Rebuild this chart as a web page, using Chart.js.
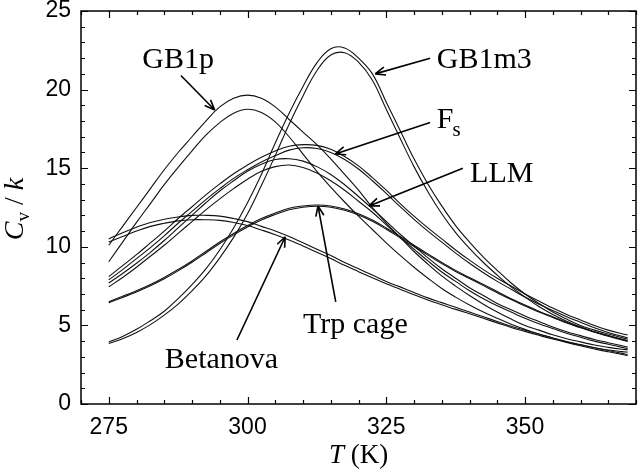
<!DOCTYPE html>
<html><head><meta charset="utf-8">
<script src="https://cdn.jsdelivr.net/npm/chart.js@4/dist/chart.umd.min.js"></script>
<style>html,body{margin:0;padding:0;background:#fff;}#wrap{width:640px;height:475px;position:relative;}</style>
</head><body><div id="wrap"><canvas id="c" width="640" height="475"></canvas></div>
<script>
// Temperature grid (K)
const T = [275,277.5,280,282.5,285,287.5,290,292.5,295,297.5,300,302.5,305,307.5,310,312.5,315,317.5,320,322.5,325,327.5,330,332.5,335,337.5,340,342.5,345,347.5,350,352.5,355,357.5,360,362.5,365,367.5,368.5];

// Heat capacity Cv/k, two curves per peptide
const gb1m3_a = [3.95,4.3,4.75,5.3,5.9,6.7,7.6,8.6,9.8,11.2,12.8,14.6,16.6,18.5,20.2,21.7,22.6,22.65,22.0,21.0,19.2,17.4,15.6,14.0,12.6,11.35,10.3,9.35,8.5,7.7,7.0,6.4,5.85,5.4,5.0,4.7,4.45,4.22,4.14];
const gb1m3_b = [3.85,4.15,4.55,5.05,5.65,6.35,7.2,8.15,9.3,10.6,12.1,13.9,15.8,17.8,19.6,21.2,22.2,22.35,21.75,20.6,18.75,16.9,15.1,13.5,12.1,10.9,9.9,9.0,8.2,7.45,6.8,6.2,5.7,5.27,4.9,4.6,4.35,4.12,4.05];
const gb1p_a = [10.1,11.3,12.5,13.7,14.9,16.0,17.0,18.0,18.9,19.45,19.65,19.45,18.9,18.1,17.3,16.5,15.6,14.6,13.6,12.5,11.5,10.6,9.7,8.9,8.15,7.5,6.9,6.35,5.85,5.4,5.0,4.7,4.4,4.15,3.95,3.75,3.6,3.48,3.45];
const gb1p_b = [9.05,10.3,11.55,12.75,13.95,15.05,16.1,17.1,17.9,18.5,18.75,18.55,17.95,17.0,15.9,14.8,13.8,12.85,11.95,11.1,10.25,9.45,8.7,8.0,7.35,6.8,6.3,5.85,5.45,5.08,4.75,4.45,4.2,3.95,3.75,3.58,3.43,3.33,3.3];
const fs_a = [8.1,8.8,9.5,10.25,11.0,11.8,12.55,13.3,14.0,14.65,15.2,15.7,16.1,16.4,16.5,16.45,16.2,15.75,15.15,14.4,13.6,12.75,11.95,11.2,10.5,9.8,9.15,8.55,8.0,7.5,7.0,6.55,6.1,5.7,5.35,5.0,4.7,4.47,4.39];
const fs_b = [7.9,8.55,9.25,9.95,10.7,11.5,12.25,13.0,13.7,14.35,14.9,15.4,15.8,16.15,16.3,16.25,16.0,15.55,14.95,14.2,13.4,12.55,11.75,11.0,10.3,9.6,8.95,8.35,7.8,7.3,6.8,6.35,5.95,5.55,5.2,4.85,4.55,4.3,4.22];
const llm_a = [7.7,8.3,8.95,9.65,10.4,11.2,12.0,12.8,13.55,14.2,14.8,15.25,15.55,15.6,15.45,15.1,14.6,13.95,13.2,12.42,11.62,10.8,10.05,9.3,8.6,8.0,7.4,6.9,6.4,6.0,5.6,5.25,4.9,4.6,4.35,4.1,3.9,3.7,3.62];
const llm_b = [7.46,8.05,8.7,9.4,10.1,10.85,11.6,12.35,13.05,13.7,14.3,14.8,15.1,15.2,15.05,14.7,14.2,13.6,12.9,12.2,11.4,10.6,9.85,9.1,8.4,7.8,7.2,6.7,6.25,5.85,5.45,5.1,4.8,4.5,4.25,4.0,3.8,3.6,3.52];
const trp_a = [6.5,6.85,7.2,7.6,8.05,8.55,9.1,9.7,10.3,10.85,11.35,11.8,12.15,12.45,12.6,12.66,12.6,12.4,12.1,11.7,11.2,10.65,10.1,9.55,9.0,8.5,8.05,7.6,7.15,6.7,6.3,5.9,5.55,5.2,4.9,4.6,4.35,4.1,4.02];
const trp_b = [6.44,6.78,7.13,7.52,7.97,8.47,9.02,9.61,10.21,10.76,11.26,11.71,12.06,12.36,12.52,12.58,12.52,12.32,12.02,11.62,11.12,10.57,10.02,9.47,8.93,8.43,7.98,7.53,7.08,6.64,6.24,5.85,5.5,5.15,4.85,4.56,4.31,4.07,3.97];
const betanova_a = [10.5,10.9,11.25,11.55,11.75,11.9,12.0,12.0,11.95,11.8,11.6,11.3,11.0,10.65,10.25,9.85,9.45,9.0,8.6,8.2,7.8,7.45,7.1,6.75,6.45,6.15,5.85,5.55,5.25,4.95,4.7,4.45,4.2,3.98,3.78,3.58,3.4,3.22,3.15];
const betanova_b = [10.3,10.65,11.0,11.3,11.5,11.65,11.72,11.72,11.68,11.55,11.35,11.07,10.77,10.43,10.05,9.65,9.25,8.82,8.42,8.03,7.65,7.3,6.95,6.62,6.32,6.02,5.74,5.45,5.16,4.87,4.62,4.37,4.13,3.91,3.7,3.5,3.32,3.15,3.07];

const seriesList = [
  ['GB1m3 a', gb1m3_a], ['GB1m3 b', gb1m3_b],
  ['GB1p a', gb1p_a], ['GB1p b', gb1p_b],
  ['Fs a', fs_a], ['Fs b', fs_b],
  ['LLM a', llm_a], ['LLM b', llm_b],
  ['Trp cage a', trp_a], ['Trp cage b', trp_b],
  ['Betanova a', betanova_a], ['Betanova b', betanova_b]
];

// Axis settings
const xMin = 270, xMax = 370, yMin = 0, yMax = 25;

// Annotation labels (text, anchor in data coordinates, arrow from -> to in data coordinates)
const labelTexts = ['GB1p', 'GB1m3', 'F', 'LLM', 'Trp cage', 'Betanova'];
const labelPos = [[287.5, 21.4], [334.1, 21.4], [334.1, 17.56], [340.1, 14.1], [310.0, 4.5], [285.1, 2.3]];
const labelAlign = ['center', 'left', 'left', 'left', 'left', 'left'];
const arrowFrom = [[288.0, 20.9], [332.9, 22.0], [332.9, 17.9], [338.8, 15.0], [315.9, 6.49], [298.1, 4.07]];
const arrowTo = [[294.1, 18.7], [323.0, 21.0], [315.8, 15.9], [321.9, 12.6], [312.7, 12.6], [306.8, 10.64]];

const SERIF = '"Liberation Serif", "Times New Roman", serif';
const SANS = '"Liberation Sans", Arial, sans-serif';

const framePlugin = {
  id: 'frame',
  afterDraw(chart) {
    const ctx = chart.ctx, a = chart.chartArea;
    const xs = chart.scales.x, ys = chart.scales.y;
    ctx.save();
    ctx.strokeStyle = '#000';
    ctx.lineWidth = 1.5;
    ctx.strokeRect(a.left, a.top, a.right - a.left, a.bottom - a.top);
    ctx.lineWidth = 1.2;
    ctx.beginPath();
    xs.ticks.forEach(t => {
      const v = t.value, px = Math.round(xs.getPixelForValue(v)) + 0.5;
      const len = (v % 25 === 0) ? 7 : 4;
      ctx.moveTo(px, a.bottom); ctx.lineTo(px, a.bottom - len);
      ctx.moveTo(px, a.top); ctx.lineTo(px, a.top + len);
    });
    ys.ticks.forEach(t => {
      const v = t.value, py = Math.round(ys.getPixelForValue(v)) + 0.5;
      const len = (v % 5 === 0) ? 7 : 4;
      ctx.moveTo(a.left, py); ctx.lineTo(a.left + len, py);
      ctx.moveTo(a.right, py); ctx.lineTo(a.right - len, py);
    });
    ctx.stroke();

    // annotations
    ctx.fillStyle = '#000';
    ctx.textBaseline = 'alphabetic';
    labelTexts.forEach((txt, i) => {
      const px = xs.getPixelForValue(labelPos[i][0]);
      const py = ys.getPixelForValue(labelPos[i][1]);
      ctx.font = '30px ' + SERIF;
      ctx.textAlign = labelAlign[i];
      ctx.fillText(txt, px, py);
      if (txt === 'F') {
        const w = ctx.measureText('F').width;
        ctx.font = '21px ' + SERIF;
        ctx.textAlign = 'left';
        ctx.fillText('s', px + w - 1, py + 8);
      }
      // arrow
      const x1 = xs.getPixelForValue(arrowFrom[i][0]), y1 = ys.getPixelForValue(arrowFrom[i][1]);
      const x2 = xs.getPixelForValue(arrowTo[i][0]), y2 = ys.getPixelForValue(arrowTo[i][1]);
      ctx.lineWidth = 1.6;
      ctx.beginPath();
      ctx.moveTo(x1, y1); ctx.lineTo(x2, y2);
      const ang = Math.atan2(y2 - y1, x2 - x1), hl = 11, ha = 0.38;
      ctx.moveTo(x2, y2); ctx.lineTo(x2 - hl * Math.cos(ang - ha), y2 - hl * Math.sin(ang - ha));
      ctx.moveTo(x2, y2); ctx.lineTo(x2 - hl * Math.cos(ang + ha), y2 - hl * Math.sin(ang + ha));
      ctx.stroke();
    });

    // x-axis title: T (K)
    const cx = (a.left + a.right) / 2;
    ctx.font = 'italic 27px ' + SERIF;
    const wT = ctx.measureText('T').width;
    ctx.font = '27px ' + SERIF;
    const wK = ctx.measureText(' (K)').width;
    let sx = cx - (wT + wK) / 2;
    ctx.textAlign = 'left';
    ctx.font = 'italic 27px ' + SERIF;
    ctx.fillText('T', sx, 463);
    ctx.font = '27px ' + SERIF;
    ctx.fillText(' (K)', sx + wT, 463);

    // y-axis title: Cv / k
    ctx.translate(23, 209);
    ctx.rotate(-Math.PI / 2);
    const parts = [
      ['C', 'italic 28px ' + SERIF, 0],
      ['v', '19px ' + SERIF, 6],
      [' / ', '28px ' + SERIF, 0],
      ['k', 'italic 28px ' + SERIF, 0]
    ];
    let tot = 0;
    parts.forEach(p => { ctx.font = p[1]; p.push(ctx.measureText(p[0]).width); tot += p[3]; });
    let ox = -tot / 2;
    parts.forEach(p => { ctx.font = p[1]; ctx.fillText(p[0], ox, p[2]); ox += p[3]; });
    ctx.restore();
  }
};

const datasets = seriesList.map(([name, vals]) => ({
  label: name,
  data: T.map((t, i) => ({ x: t, y: vals[i] })),
  borderColor: '#111',
  borderWidth: 1.1,
  pointRadius: 0,
  fill: false,
  tension: 0.4
}));

const noPad = s => { s.paddingTop = 0; s.paddingBottom = 0; s.paddingLeft = 0; s.paddingRight = 0; };

new Chart(document.getElementById('c'), {
  type: 'line',
  data: { datasets },
  options: {
    responsive: false,
    animation: false,
    devicePixelRatio: 1,
    layout: { padding: { left: 0, right: 4, top: 11, bottom: 0 } },
    plugins: { legend: { display: false }, tooltip: { enabled: false } },
    scales: {
      x: {
        type: 'linear', min: xMin, max: xMax,
        grid: { display: false, drawTicks: false },
        border: { display: false },
        ticks: {
          stepSize: 5, autoSkip: false, maxRotation: 0, padding: 10,
          color: '#000', font: { family: SANS, size: 23 },
          callback: v => (v % 25 === 0 ? String(v) : '')
        },
        afterFit: s => { s.height = 71; noPad(s); }
      },
      y: {
        min: yMin, max: yMax,
        grid: { display: false, drawTicks: false },
        border: { display: false },
        ticks: {
          stepSize: 1, autoSkip: false, padding: 10,
          color: '#000', font: { family: SANS, size: 23 },
          callback: v => (v % 5 === 0 ? String(v) : '')
        },
        afterFit: s => { s.width = 81; noPad(s); }
      }
    }
  },
  plugins: [framePlugin]
});
</script>
</body></html>
